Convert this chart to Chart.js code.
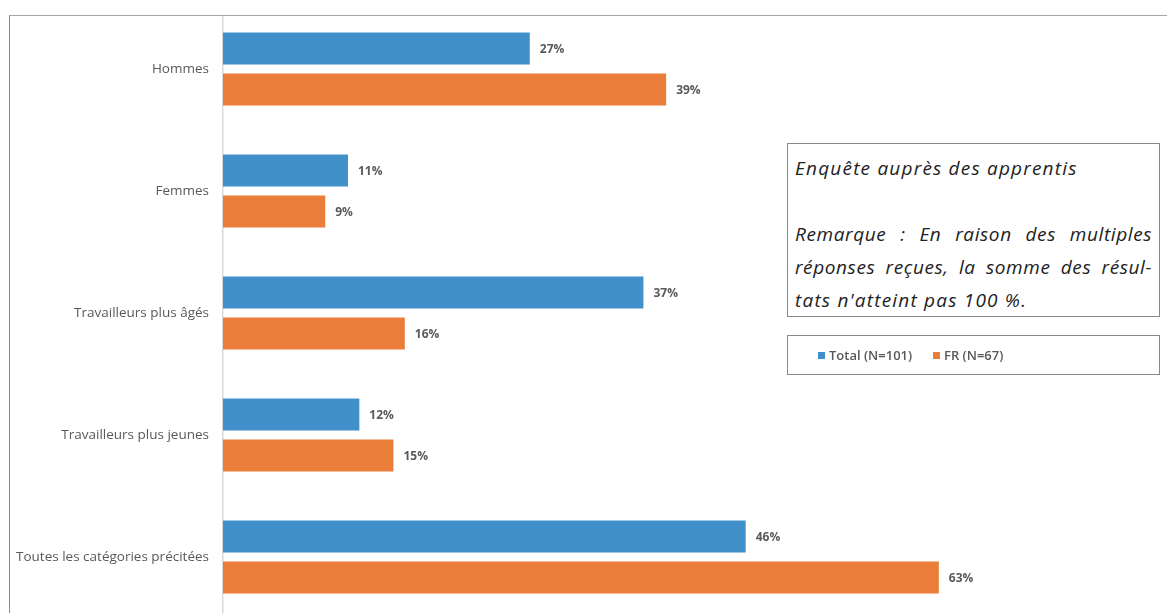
<!DOCTYPE html>
<html>
<head>
<meta charset="utf-8">
<script src="https://cdn.jsdelivr.net/npm/chart.js@4.4.1/dist/chart.umd.min.js"></script>
<style>
  html, body { margin: 0; padding: 0; background: #fff; overflow: hidden; }
  #wrap { position: relative; width: 1167px; height: 613px; overflow: hidden; }
  #chart { position: absolute; left: 0; top: 0; }
  #cover { position: absolute; left: 0; top: 0; width: 1167px; height: 15px; background: #fff; }
  #frame { position: absolute; left: 9px; top: 15px; right: -5px; bottom: -5px;
           border-top: 1.5px solid #a6a6a6; border-left: 1.5px solid #8c8c8c; }
  #note { position: absolute; left: 787px; top: 143px; width: 357px; height: 156px;
          border: 1px solid #8a8a8a; background: #fff; padding: 8px 7px 8px 7px;
          font-family: "Open Sans", Lato, sans-serif; font-style: italic; font-size: 19px;
          letter-spacing: 1.2px; color: #222; line-height: 33px; }
  #note .j { text-align: justify; text-align-last: justify; letter-spacing: 0.6px; }
  #legend { position: absolute; left: 787px; top: 335px; width: 371px; height: 38px;
            border: 1px solid #8a8a8a; background: #fff;
            font-family: "Open Sans", Lato, sans-serif; font-size: 13px; font-weight: 600; color: #595959; }
  #legend span.item { position: absolute; top: 10px; white-space: nowrap; }
  #legend i { display: inline-block; width: 7px; height: 7px; margin-right: 4px; vertical-align: 1px; }
</style>
</head>
<body>
<div id="wrap">
  <canvas id="chart" width="1167" height="626"></canvas>
  <div id="cover"></div>
  <div id="frame"></div>
  <div id="note">
    <div>Enquête auprès des apprentis</div>
    <div>&nbsp;</div>
    <div class="j">Remarque : En raison des multiples</div>
    <div class="j">réponses reçues, la somme des résul-</div>
    <div>tats n'atteint pas 100 %.</div>
  </div>
  <div id="legend"></div>
</div>
<script>
const categories = [
  'Hommes',
  'Femmes',
  'Travailleurs plus âgés',
  'Travailleurs plus jeunes',
  'Toutes les catégories précitées'
];
const totalValues = [27, 11, 37, 12, 46];
const frValues = [39, 9, 16, 15, 63];
const seriesNames = ['Total (N=101)', 'FR (N=67)'];
const seriesColors = ['#4290ca', '#eb7d3a'];

const valueLabels = {
  id: 'valueLabels',
  afterDatasetsDraw(chart) {
    const ctx = chart.ctx;
    ctx.save();
    ctx.font = 'bold 12px "Open Sans", Lato, sans-serif';
    ctx.fillStyle = '#595959';
    ctx.textBaseline = 'middle';
    ctx.textAlign = 'left';
    chart.data.datasets.forEach((ds, i) => {
      chart.getDatasetMeta(i).data.forEach((bar, j) => {
        ctx.fillText(ds.data[j] + '%', bar.x + 10, bar.y + 1);
      });
    });
    ctx.restore();
  }
};

const chart = new Chart(document.getElementById('chart'), {
  type: 'bar',
  data: {
    labels: categories,
    datasets: [
      { label: seriesNames[0], data: totalValues, backgroundColor: seriesColors[0] },
      { label: seriesNames[1], data: frValues, backgroundColor: seriesColors[1] }
    ]
  },
  options: {
    indexAxis: 'y',
    responsive: false,
    animation: false,
    categoryPercentage: 0.672,
    barPercentage: 0.78,
    layout: { padding: { top: 8, bottom: 8, left: 0, right: 35 } },
    plugins: {
      legend: { display: false },
      tooltip: { enabled: false }
    },
    scales: {
      x: {
        display: false,
        min: 0,
        max: 80
      },
      y: {
        afterFit(scale) {
          scale.width = 223;
          scale.paddingTop = 0;
          scale.paddingBottom = 0;
        },
        grid: { display: false, drawTicks: false },
        border: { display: true, color: '#d9d9d9', width: 1.5 },
        ticks: {
          padding: 14,
          color: '#595959',
          font: { family: '"Open Sans", Lato, sans-serif', size: 13.5 }
        }
      }
    }
  },
  plugins: [valueLabels]
});

// legend built from the chart datasets
const legend = document.getElementById('legend');
const legendX = [30, 145];
chart.data.datasets.forEach((ds, i) => {
  const s = document.createElement('span');
  s.className = 'item';
  s.style.left = legendX[i] + 'px';
  s.innerHTML = '<i style="background:' + ds.backgroundColor + '"></i>' + ds.label;
  legend.appendChild(s);
});
</script>
</body>
</html>
